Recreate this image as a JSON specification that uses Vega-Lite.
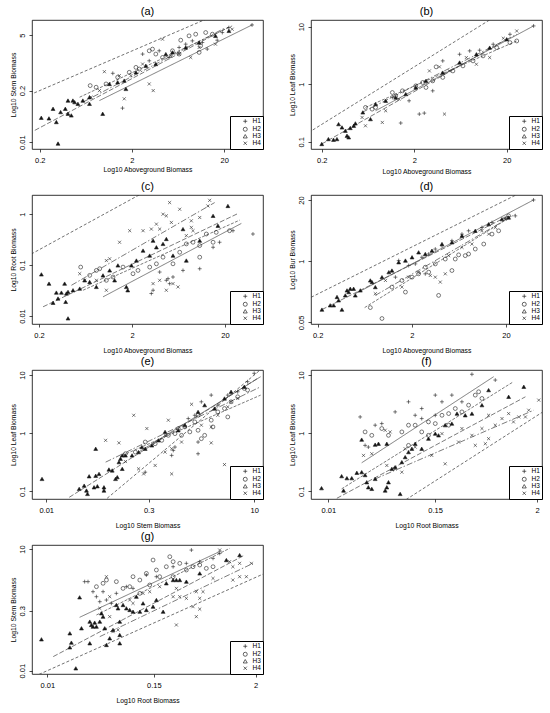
{
"$schema":"https://vega.github.io/schema/vega-lite/v6.json",
"padding":{"left":9,"top":5,"right":2,"bottom":2},
"autosize":{"type":"pad"},
"datasets":{
"ref":[{"x":0.001,"y":0.001},{"x":100,"y":100}],
"fits":[
{"p":"a","g":"H1","x":0.889,"y":0.112},{"p":"a","g":"H1","x":40.1,"y":9.08},
{"p":"a","g":"H2","x":0.541,"y":0.136},{"p":"a","g":"H2","x":24.4,"y":8.57},
{"p":"a","g":"H3","x":0.177,"y":0.0198},{"p":"a","g":"H3","x":22.5,"y":8.09},
{"p":"a","g":"H4","x":0.587,"y":0.102},{"p":"a","g":"H4","x":20.7,"y":7.78},
{"p":"b","g":"H1","x":0.764,"y":0.345},{"p":"b","g":"H1","x":39.1,"y":10.3},
{"p":"b","g":"H2","x":0.594,"y":0.394},{"p":"b","g":"H2","x":25.7,"y":5.64},
{"p":"b","g":"H3","x":0.2,"y":0.0912},{"p":"b","g":"H3","x":20,"y":6.03},
{"p":"b","g":"H4","x":0.546,"y":0.323},{"p":"b","g":"H4","x":25.7,"y":7.36},
{"p":"c","g":"H1","x":0.975,"y":0.0238},{"p":"c","g":"H1","x":30,"y":0.658},
{"p":"c","g":"H2","x":0.595,"y":0.0321},{"p":"c","g":"H2","x":28.8,"y":0.764},
{"p":"c","g":"H3","x":0.221,"y":0.0152},{"p":"c","g":"H3","x":27.6,"y":1.03},
{"p":"c","g":"H4","x":0.446,"y":0.0402},{"p":"c","g":"H4","x":15.5,"y":1.69},
{"p":"d","g":"H1","x":0.502,"y":0.203},{"p":"d","g":"H1","x":39.2,"y":20},
{"p":"d","g":"H2","x":0.631,"y":0.103},{"p":"d","g":"H2","x":21.3,"y":8.2},
{"p":"d","g":"H3","x":0.222,"y":0.0933},{"p":"d","g":"H3","x":21.3,"y":9.18},
{"p":"d","g":"H4","x":0.819,"y":0.187},{"p":"d","g":"H4","x":25.1,"y":9.96},
{"p":"e","g":"H1","x":0.215,"y":0.472},{"p":"e","g":"H1","x":12.4,"y":9.36},
{"p":"e","g":"H2","x":0.125,"y":0.414},{"p":"e","g":"H2","x":12.4,"y":4.51},
{"p":"e","g":"H3","x":0.0215,"y":0.0787},{"p":"e","g":"H3","x":11.2,"y":8.76},
{"p":"e","g":"H4","x":0.072,"y":0.317},{"p":"e","g":"H4","x":12.4,"y":6.28},
{"p":"f","g":"H1","x":0.0233,"y":0.309},{"p":"f","g":"H1","x":0.665,"y":9.36},
{"p":"f","g":"H2","x":0.014,"y":0.11},{"p":"f","g":"H2","x":1.1,"y":7.67},
{"p":"f","g":"H3","x":0.0124,"y":0.0757},{"p":"f","g":"H3","x":1.49,"y":4.22},
{"p":"f","g":"H4","x":0.0328,"y":0.163},{"p":"f","g":"H4","x":1.84,"y":2.48},
{"p":"g","g":"H1","x":0.0227,"y":0.207},{"p":"g","g":"H1","x":0.836,"y":9.09},
{"p":"g","g":"H2","x":0.0348,"y":0.236},{"p":"g","g":"H2","x":1.03,"y":10.4},
{"p":"g","g":"H3","x":0.0116,"y":0.0222},{"p":"g","g":"H3","x":1.51,"y":7.11},
{"p":"g","g":"H4","x":0.0379,"y":0.069},{"p":"g","g":"H4","x":1.87,"y":4.44}
],
"pts":[
{"p":"a","g":"H3","x":0.208,"y":0.0412},{"p":"a","g":"H3","x":0.252,"y":0.0397},{"p":"a","g":"H3","x":0.279,"y":0.0694},{"p":"a","g":"H3","x":0.303,"y":0.0321},{"p":"a","g":"H3","x":0.337,"y":0.0573},{"p":"a","g":"H3","x":0.316,"y":0.0092},{"p":"a","g":"H3","x":0.379,"y":0.0694},{"p":"a","g":"H3","x":0.405,"y":0.112},{"p":"a","g":"H3","x":0.405,"y":0.052},{"p":"a","g":"H3","x":0.44,"y":0.0472},{"p":"a","g":"H3","x":0.458,"y":0.112},{"p":"a","g":"H3","x":0.478,"y":0.102},{"p":"a","g":"H3","x":0.519,"y":0.0927},{"p":"a","g":"H3","x":0.587,"y":0.112},{"p":"a","g":"H3","x":0.693,"y":0.136},{"p":"a","g":"H3","x":0.693,"y":0.0927},{"p":"a","g":"H3","x":0.964,"y":0.052},{"p":"a","g":"H3","x":1.14,"y":0.294},{"p":"a","g":"H3","x":1.4,"y":0.324},{"p":"a","g":"H3","x":1.72,"y":0.22},{"p":"a","g":"H3","x":1.65,"y":0.357},{"p":"a","g":"H3","x":2.21,"y":0.578},{"p":"a","g":"H3","x":2.83,"y":0.849},{"p":"a","g":"H3","x":3.63,"y":0.935},{"p":"a","g":"H3","x":4.66,"y":1.67},{"p":"a","g":"H3","x":5.5,"y":1.84},{"p":"a","g":"H3","x":7.65,"y":2.45},{"p":"a","g":"H3","x":10.7,"y":3.27},{"p":"a","g":"H3","x":16.1,"y":4.81},{"p":"a","g":"H3","x":22.5,"y":6.43},
{"p":"a","g":"H1","x":1.58,"y":0.0721},{"p":"a","g":"H1","x":1.24,"y":0.546},{"p":"a","g":"H1","x":2.61,"y":1.67},{"p":"a","g":"H1","x":3.95,"y":2.02},{"p":"a","g":"H1","x":5.06,"y":1.37},{"p":"a","g":"H1","x":6.49,"y":2.45},{"p":"a","g":"H1","x":7.65,"y":2.97},{"p":"a","g":"H1","x":9.04,"y":3.6},{"p":"a","g":"H1","x":11.6,"y":3.27},{"p":"a","g":"H1","x":13.1,"y":2.23},{"p":"a","g":"H1","x":16.8,"y":3.74},{"p":"a","g":"H1","x":19.1,"y":5.84},{"p":"a","g":"H1","x":40.1,"y":9.08},{"p":"a","g":"H1","x":22.5,"y":7.78},{"p":"a","g":"H1","x":3.08,"y":1.13},
{"p":"a","g":"H2","x":0.705,"y":0.267},{"p":"a","g":"H2","x":0.818,"y":0.243},{"p":"a","g":"H2","x":1.048,"y":0.294},{"p":"a","g":"H2","x":1.4,"y":0.433},{"p":"a","g":"H2","x":1.87,"y":0.578},{"p":"a","g":"H2","x":2.21,"y":0.771},{"p":"a","g":"H2","x":2.4,"y":0.7},{"p":"a","g":"H2","x":3.08,"y":2.02},{"p":"a","g":"H2","x":3.63,"y":1.67},{"p":"a","g":"H2","x":4.29,"y":1.37},{"p":"a","g":"H2","x":5.5,"y":2.02},{"p":"a","g":"H2","x":6.76,"y":3.74},{"p":"a","g":"H2","x":8.32,"y":4.81},{"p":"a","g":"H2","x":9.82,"y":5.3},{"p":"a","g":"H2","x":11.1,"y":2.7},{"p":"a","g":"H2","x":12.6,"y":5.84},{"p":"a","g":"H2","x":14.9,"y":5.3},{"p":"a","g":"H2","x":10.7,"y":1.84},{"p":"a","g":"H2","x":6.49,"y":1.67},{"p":"a","g":"H2","x":3.34,"y":2.23},
{"p":"a","g":"H4","x":1.005,"y":0.6},{"p":"a","g":"H4","x":0.723,"y":0.136},{"p":"a","g":"H4","x":0.889,"y":0.2},{"p":"a","g":"H4","x":1.46,"y":0.477},{"p":"a","g":"H4","x":1.95,"y":0.477},{"p":"a","g":"H4","x":3.08,"y":0.294},{"p":"a","g":"H4","x":3.4,"y":0.2},{"p":"a","g":"H4","x":1.65,"y":0.124},{"p":"a","g":"H4","x":4.29,"y":3.97},{"p":"a","g":"H4","x":5.27,"y":1.51},{"p":"a","g":"H4","x":6.49,"y":1.67},{"p":"a","g":"H4","x":8.67,"y":1.37},{"p":"a","g":"H4","x":10.7,"y":2.45},{"p":"a","g":"H4","x":16.1,"y":2.97},{"p":"a","g":"H4","x":24.4,"y":7.08},{"p":"a","g":"H4","x":2.61,"y":0.935},
{"p":"b","g":"H3","x":0.2,"y":0.0912},{"p":"b","g":"H3","x":0.236,"y":0.111},{"p":"b","g":"H3","x":0.268,"y":0.108},{"p":"b","g":"H3","x":0.292,"y":0.111},{"p":"b","g":"H3","x":0.304,"y":0.202},{"p":"b","g":"H3","x":0.331,"y":0.177},{"p":"b","g":"H3","x":0.36,"y":0.155},{"p":"b","g":"H3","x":0.375,"y":0.127},{"p":"b","g":"H3","x":0.391,"y":0.119},{"p":"b","g":"H3","x":0.407,"y":0.173},{"p":"b","g":"H3","x":0.443,"y":0.189},{"p":"b","g":"H3","x":0.462,"y":0.208},{"p":"b","g":"H3","x":0.556,"y":0.323},{"p":"b","g":"H3","x":0.673,"y":0.247},{"p":"b","g":"H3","x":0.764,"y":0.45},{"p":"b","g":"H3","x":0.982,"y":0.514},{"p":"b","g":"H3","x":1.26,"y":0.587},{"p":"b","g":"H3","x":1.62,"y":0.671},{"p":"b","g":"H3","x":2.08,"y":0.875},{"p":"b","g":"H3","x":2.68,"y":1.14},{"p":"b","g":"H3","x":4.07,"y":1.59},{"p":"b","g":"H3","x":6.19,"y":2.38},{"p":"b","g":"H3","x":9.41,"y":3.31},{"p":"b","g":"H3","x":13.1,"y":4.32},{"p":"b","g":"H3","x":20,"y":6.03},
{"p":"b","g":"H1","x":2.27,"y":0.302},{"p":"b","g":"H1","x":2.57,"y":0.314},{"p":"b","g":"H1","x":1.43,"y":0.211},{"p":"b","g":"H1","x":1.16,"y":0.587},{"p":"b","g":"H1","x":4.07,"y":2.54},{"p":"b","g":"H1","x":6.19,"y":3.31},{"p":"b","g":"H1","x":7.96,"y":3.79},{"p":"b","g":"H1","x":10.2,"y":3.89},{"p":"b","g":"H1","x":14.3,"y":4.94},{"p":"b","g":"H1","x":21.7,"y":7.36},{"p":"b","g":"H1","x":39.1,"y":10.3},{"p":"b","g":"H1","x":3.17,"y":0.766},{"p":"b","g":"H1","x":1.76,"y":0.514},
{"p":"b","g":"H2","x":1.16,"y":0.716},{"p":"b","g":"H2","x":1.26,"y":0.628},{"p":"b","g":"H2","x":0.594,"y":0.394},{"p":"b","g":"H2","x":0.701,"y":0.368},{"p":"b","g":"H2","x":0.764,"y":0.394},{"p":"b","g":"H2","x":1.49,"y":0.766},{"p":"b","g":"H2","x":2.08,"y":0.935},{"p":"b","g":"H2","x":2.47,"y":1.07},{"p":"b","g":"H2","x":3.17,"y":1.14},{"p":"b","g":"H2","x":4.07,"y":1.31},{"p":"b","g":"H2","x":5.24,"y":1.7},{"p":"b","g":"H2","x":6.73,"y":2.08},{"p":"b","g":"H2","x":8.65,"y":2.54},{"p":"b","g":"H2","x":11.1,"y":3.1},{"p":"b","g":"H2","x":15.6,"y":4.32},{"p":"b","g":"H2","x":21.7,"y":5.28},{"p":"b","g":"H2","x":25.7,"y":5.64},{"p":"b","g":"H2","x":3.45,"y":2.0},{"p":"b","g":"H2","x":2.68,"y":0.875},
{"p":"b","g":"H4","x":0.546,"y":0.264},{"p":"b","g":"H4","x":0.594,"y":0.189},{"p":"b","g":"H4","x":0.903,"y":0.216},{"p":"b","g":"H4","x":0.982,"y":0.345},{"p":"b","g":"H4","x":3.75,"y":2.0},{"p":"b","g":"H4","x":4.25,"y":0.302},{"p":"b","g":"H4","x":1.37,"y":0.55},{"p":"b","g":"H4","x":2.92,"y":1.7},{"p":"b","g":"H4","x":4.82,"y":1.7},{"p":"b","g":"H4","x":7.32,"y":2.9},{"p":"b","g":"H4","x":13.1,"y":2.9},{"p":"b","g":"H4","x":18.4,"y":6.28},{"p":"b","g":"H4","x":25.7,"y":8.41},{"p":"b","g":"H4","x":9.41,"y":2.22},
{"p":"c","g":"H3","x":0.212,"y":0.0658},{"p":"c","g":"H3","x":0.256,"y":0.0433},{"p":"c","g":"H3","x":0.307,"y":0.0289},{"p":"c","g":"H3","x":0.348,"y":0.0289},{"p":"c","g":"H3","x":0.283,"y":0.0182},{"p":"c","g":"H3","x":0.32,"y":0.0221},{"p":"c","g":"H3","x":0.377,"y":0.0433},{"p":"c","g":"H3","x":0.394,"y":0.0277},{"p":"c","g":"H3","x":0.41,"y":0.0298},{"p":"c","g":"H3","x":0.387,"y":0.019},{"p":"c","g":"H3","x":0.41,"y":0.00901},{"p":"c","g":"H3","x":0.464,"y":0.0321},{"p":"c","g":"H3","x":0.548,"y":0.0346},{"p":"c","g":"H3","x":0.619,"y":0.0503},{"p":"c","g":"H3","x":0.701,"y":0.0467},{"p":"c","g":"H3","x":0.975,"y":0.0629},{"p":"c","g":"H3","x":0.827,"y":0.0373},{"p":"c","g":"H3","x":1.15,"y":0.0787},{"p":"c","g":"H3","x":1.41,"y":0.0986},{"p":"c","g":"H3","x":1.3,"y":0.0503},{"p":"c","g":"H3","x":1.74,"y":0.0373},{"p":"c","g":"H3","x":1.8,"y":0.0321},{"p":"c","g":"H3","x":1.97,"y":0.0986},{"p":"c","g":"H3","x":2.23,"y":0.123},{"p":"c","g":"H3","x":2.63,"y":0.193},{"p":"c","g":"H3","x":3.1,"y":0.154},{"p":"c","g":"H3","x":3.37,"y":0.302},{"p":"c","g":"H3","x":3.66,"y":0.224},{"p":"c","g":"H3","x":4.31,"y":0.261},{"p":"c","g":"H3","x":4.68,"y":0.326},{"p":"c","g":"H3","x":5.52,"y":0.154},{"p":"c","g":"H3","x":7.07,"y":0.51},{"p":"c","g":"H3","x":7.68,"y":0.123},{"p":"c","g":"H3","x":10.7,"y":0.302},{"p":"c","g":"H3","x":14.9,"y":0.928},{"p":"c","g":"H3","x":16.8,"y":0.593},{"p":"c","g":"H3","x":21.5,"y":1.45},
{"p":"c","g":"H4","x":0.548,"y":0.0678},{"p":"c","g":"H4","x":0.619,"y":0.0503},{"p":"c","g":"H4","x":0.827,"y":0.0503},{"p":"c","g":"H4","x":1.06,"y":0.123},{"p":"c","g":"H4","x":1.15,"y":0.133},{"p":"c","g":"H4","x":1.47,"y":0.281},{"p":"c","g":"H4","x":1.89,"y":0.474},{"p":"c","g":"H4","x":2.63,"y":0.474},{"p":"c","g":"H4","x":3.23,"y":0.51},{"p":"c","g":"H4","x":3.66,"y":0.638},{"p":"c","g":"H4","x":3.97,"y":0.51},{"p":"c","g":"H4","x":4.31,"y":1.0},{"p":"c","g":"H4","x":4.68,"y":0.928},{"p":"c","g":"H4","x":5.08,"y":1.69},{"p":"c","g":"H4","x":5.3,"y":0.688},{"p":"c","g":"H4","x":6.52,"y":1.25},{"p":"c","g":"H4","x":7.68,"y":0.379},{"p":"c","g":"H4","x":8.69,"y":0.55},{"p":"c","g":"H4","x":9.06,"y":0.474},{"p":"c","g":"H4","x":10.7,"y":0.861},{"p":"c","g":"H4","x":13.1,"y":1.45},{"p":"c","g":"H4","x":13.7,"y":1.87},{"p":"c","g":"H4","x":3.97,"y":0.0503},{"p":"c","g":"H4","x":4.68,"y":0.0321},{"p":"c","g":"H4","x":5.52,"y":0.0433},{"p":"c","g":"H4","x":6.25,"y":0.0373},{"p":"c","g":"H4","x":8.69,"y":0.741},{"p":"c","g":"H4","x":3.37,"y":0.0433},{"p":"c","g":"H4","x":1.06,"y":0.0321},
{"p":"c","g":"H2","x":0.561,"y":0.0915},{"p":"c","g":"H2","x":0.701,"y":0.0629},{"p":"c","g":"H2","x":0.827,"y":0.0787},{"p":"c","g":"H2","x":0.898,"y":0.0849},{"p":"c","g":"H2","x":1.06,"y":0.0503},{"p":"c","g":"H2","x":1.25,"y":0.0584},{"p":"c","g":"H2","x":1.6,"y":0.0915},{"p":"c","g":"H2","x":2.05,"y":0.0678},{"p":"c","g":"H2","x":2.32,"y":0.0787},{"p":"c","g":"H2","x":3.1,"y":0.0915},{"p":"c","g":"H2","x":3.66,"y":0.106},{"p":"c","g":"H2","x":4.31,"y":0.143},{"p":"c","g":"H2","x":5.52,"y":0.106},{"p":"c","g":"H2","x":6.52,"y":0.179},{"p":"c","g":"H2","x":7.68,"y":0.261},{"p":"c","g":"H2","x":9.06,"y":0.281},{"p":"c","g":"H2","x":10.7,"y":0.242},{"p":"c","g":"H2","x":12.6,"y":0.408},{"p":"c","g":"H2","x":16.1,"y":0.44},{"p":"c","g":"H2","x":22.4,"y":0.474},{"p":"c","g":"H2","x":14.9,"y":0.281},{"p":"c","g":"H2","x":10.7,"y":0.143},
{"p":"c","g":"H1","x":3.97,"y":0.0731},{"p":"c","g":"H1","x":4.68,"y":0.0503},{"p":"c","g":"H1","x":4.88,"y":0.0542},{"p":"c","g":"H1","x":5.08,"y":0.0433},{"p":"c","g":"H1","x":5.52,"y":0.0584},{"p":"c","g":"H1","x":7.07,"y":0.0787},{"p":"c","g":"H1","x":10.7,"y":0.0849},{"p":"c","g":"H1","x":14.9,"y":0.224},{"p":"c","g":"H1","x":17.5,"y":0.281},{"p":"c","g":"H1","x":24.4,"y":0.474},{"p":"c","g":"H1","x":40,"y":0.408},{"p":"c","g":"H1","x":3.37,"y":0.0321},{"p":"c","g":"H1","x":3.23,"y":0.0277},
{"p":"d","g":"H3","x":0.222,"y":0.0933},{"p":"d","g":"H3","x":0.272,"y":0.115},{"p":"d","g":"H3","x":0.296,"y":0.115},{"p":"d","g":"H3","x":0.321,"y":0.173},{"p":"d","g":"H3","x":0.334,"y":0.147},{"p":"d","g":"H3","x":0.362,"y":0.0933},{"p":"d","g":"H3","x":0.393,"y":0.187},{"p":"d","g":"H3","x":0.41,"y":0.239},{"p":"d","g":"H3","x":0.427,"y":0.22},{"p":"d","g":"H3","x":0.444,"y":0.259},{"p":"d","g":"H3","x":0.482,"y":0.259},{"p":"d","g":"H3","x":0.502,"y":0.187},{"p":"d","g":"H3","x":0.568,"y":0.239},{"p":"d","g":"H3","x":0.725,"y":0.389},{"p":"d","g":"H3","x":0.755,"y":0.359},{"p":"d","g":"H3","x":0.819,"y":0.281},{"p":"d","g":"H3","x":0.964,"y":0.457},{"p":"d","g":"H3","x":1.14,"y":0.583},{"p":"d","g":"H3","x":1.23,"y":0.632},{"p":"d","g":"H3","x":1.45,"y":0.948},{"p":"d","g":"H3","x":1.71,"y":1.03},{"p":"d","g":"H3","x":2.01,"y":1.21},{"p":"d","g":"H3","x":2.36,"y":1.54},{"p":"d","g":"H3","x":2.78,"y":1.42},{"p":"d","g":"H3","x":3.27,"y":1.67},{"p":"d","g":"H3","x":4.18,"y":2.31},{"p":"d","g":"H3","x":5.33,"y":2.51},{"p":"d","g":"H3","x":6.81,"y":3.47},{"p":"d","g":"H3","x":9.43,"y":4.42},{"p":"d","g":"H3","x":13.1,"y":6.12},{"p":"d","g":"H3","x":18.1,"y":7.81},{"p":"d","g":"H3","x":21.3,"y":8.47},
{"p":"d","g":"H1","x":1.45,"y":1.03},{"p":"d","g":"H1","x":1.85,"y":0.806},{"p":"d","g":"H1","x":2.18,"y":0.874},{"p":"d","g":"H1","x":2.56,"y":1.21},{"p":"d","g":"H1","x":3.02,"y":1.42},{"p":"d","g":"H1","x":3.55,"y":1.81},{"p":"d","g":"H1","x":4.18,"y":2.13},{"p":"d","g":"H1","x":5.33,"y":2.72},{"p":"d","g":"H1","x":6.81,"y":3.76},{"p":"d","g":"H1","x":8.01,"y":4.42},{"p":"d","g":"H1","x":11.1,"y":5.2},{"p":"d","g":"H1","x":14.2,"y":6.64},{"p":"d","g":"H1","x":19.6,"y":8.2},{"p":"d","g":"H1","x":25.1,"y":9.18},{"p":"d","g":"H1","x":39.2,"y":20},{"p":"d","g":"H1","x":1.34,"y":0.457},{"p":"d","g":"H1","x":2.78,"y":0.538},
{"p":"d","g":"H2","x":0.725,"y":0.103},{"p":"d","g":"H2","x":0.964,"y":0.0603},{"p":"d","g":"H2","x":1.23,"y":0.281},{"p":"d","g":"H2","x":1.57,"y":0.389},{"p":"d","g":"H2","x":2.01,"y":0.457},{"p":"d","g":"H2","x":2.36,"y":0.538},{"p":"d","g":"H2","x":3.02,"y":0.583},{"p":"d","g":"H2","x":3.55,"y":0.874},{"p":"d","g":"H2","x":4.53,"y":1.11},{"p":"d","g":"H2","x":5.33,"y":0.632},{"p":"d","g":"H2","x":5.78,"y":1.11},{"p":"d","g":"H2","x":7.38,"y":1.31},{"p":"d","g":"H2","x":8.01,"y":1.42},{"p":"d","g":"H2","x":9.43,"y":1.81},{"p":"d","g":"H2","x":11.6,"y":2.31},{"p":"d","g":"H2","x":14.2,"y":3.76},{"p":"d","g":"H2","x":16.7,"y":4.42},{"p":"d","g":"H2","x":21.3,"y":9.18},{"p":"d","g":"H2","x":3.85,"y":0.187},{"p":"d","g":"H2","x":6.28,"y":1.36},{"p":"d","g":"H2","x":2.78,"y":0.743},{"p":"d","g":"H2","x":1.71,"y":0.22},
{"p":"d","g":"H4","x":1.57,"y":0.281},{"p":"d","g":"H4","x":1.85,"y":0.457},{"p":"d","g":"H4","x":2.36,"y":0.583},{"p":"d","g":"H4","x":3.14,"y":0.496},{"p":"d","g":"H4","x":3.55,"y":0.457},{"p":"d","g":"H4","x":4.01,"y":0.359},{"p":"d","g":"H4","x":4.53,"y":0.538},{"p":"d","g":"H4","x":4.92,"y":1.31},{"p":"d","g":"H4","x":6.81,"y":1.97},{"p":"d","g":"H4","x":8.69,"y":2.31},{"p":"d","g":"H4","x":11.1,"y":4.42},{"p":"d","g":"H4","x":13.1,"y":3.76},{"p":"d","g":"H4","x":15.4,"y":5.2},{"p":"d","g":"H4","x":19.6,"y":7.81},{"p":"d","g":"H4","x":21.3,"y":8.47},{"p":"d","g":"H4","x":1.05,"y":0.389},{"p":"d","g":"H4","x":0.819,"y":0.203},
{"p":"e","g":"H3","x":0.0087,"y":0.163},{"p":"e","g":"H3","x":0.0299,"y":0.11},{"p":"e","g":"H3","x":0.0353,"y":0.125},{"p":"e","g":"H3","x":0.0381,"y":0.103},{"p":"e","g":"H3","x":0.0394,"y":0.09},{"p":"e","g":"H3","x":0.0416,"y":0.181},{"p":"e","g":"H3","x":0.049,"y":0.117},{"p":"e","g":"H3","x":0.0518,"y":0.185},{"p":"e","g":"H3","x":0.0518,"y":0.539},{"p":"e","g":"H3","x":0.0547,"y":0.122},{"p":"e","g":"H3","x":0.0578,"y":0.199},{"p":"e","g":"H3","x":0.0681,"y":0.117},{"p":"e","g":"H3","x":0.0681,"y":0.103},{"p":"e","g":"H3","x":0.0803,"y":0.237},{"p":"e","g":"H3","x":0.0896,"y":0.228},{"p":"e","g":"H3","x":0.1,"y":0.163},{"p":"e","g":"H3","x":0.106,"y":0.175},{"p":"e","g":"H3","x":0.112,"y":0.317},{"p":"e","g":"H3","x":0.118,"y":0.362},{"p":"e","g":"H3","x":0.125,"y":0.414},{"p":"e","g":"H3","x":0.125,"y":0.243},{"p":"e","g":"H3","x":0.139,"y":0.414},{"p":"e","g":"H3","x":0.173,"y":0.414},{"p":"e","g":"H3","x":0.215,"y":0.472},{"p":"e","g":"H3","x":0.24,"y":0.576},{"p":"e","g":"H3","x":0.268,"y":0.539},{"p":"e","g":"H3","x":0.334,"y":0.616},{"p":"e","g":"H3","x":0.416,"y":0.752},{"p":"e","g":"H3","x":0.518,"y":1.05},{"p":"e","g":"H3","x":0.803,"y":1.12},{"p":"e","g":"H3","x":1.0,"y":1.37},{"p":"e","g":"H3","x":1.55,"y":2.32},{"p":"e","g":"H3","x":1.93,"y":3.03},{"p":"e","g":"H3","x":2.68,"y":2.65},{"p":"e","g":"H3","x":3.73,"y":3.95},{"p":"e","g":"H3","x":4.64,"y":5.15},{"p":"e","g":"H3","x":7.2,"y":6.28},
{"p":"e","g":"H4","x":0.072,"y":0.752},{"p":"e","g":"H4","x":0.112,"y":0.68},{"p":"e","g":"H4","x":0.183,"y":2.03},{"p":"e","g":"H4","x":0.283,"y":1.2},{"p":"e","g":"H4","x":0.139,"y":0.325},{"p":"e","g":"H4","x":0.215,"y":0.243},{"p":"e","g":"H4","x":0.254,"y":0.199},{"p":"e","g":"H4","x":0.373,"y":0.278},{"p":"e","g":"H4","x":0.518,"y":0.472},{"p":"e","g":"H4","x":0.578,"y":1.67},{"p":"e","g":"H4","x":0.645,"y":0.539},{"p":"e","g":"H4","x":0.896,"y":0.703},{"p":"e","g":"H4","x":1.25,"y":3.14},{"p":"e","g":"H4","x":1.73,"y":1.37},{"p":"e","g":"H4","x":2.4,"y":1.28},{"p":"e","g":"H4","x":2.99,"y":2.03},{"p":"e","g":"H4","x":4.16,"y":2.83},{"p":"e","g":"H4","x":4.64,"y":3.46},{"p":"e","g":"H4","x":5.78,"y":3.95},{"p":"e","g":"H4","x":2.4,"y":0.68},{"p":"e","g":"H4","x":3.73,"y":0.288},{"p":"e","g":"H4","x":0.645,"y":0.199},{"p":"e","g":"H4","x":0.518,"y":0.917},
{"p":"e","g":"H2","x":0.139,"y":0.442},{"p":"e","g":"H2","x":0.193,"y":0.472},{"p":"e","g":"H2","x":0.268,"y":0.703},{"p":"e","g":"H2","x":0.373,"y":0.658},{"p":"e","g":"H2","x":0.464,"y":0.752},{"p":"e","g":"H2","x":0.578,"y":0.917},{"p":"e","g":"H2","x":0.72,"y":0.98},{"p":"e","g":"H2","x":0.803,"y":1.2},{"p":"e","g":"H2","x":0.896,"y":0.917},{"p":"e","g":"H2","x":1.0,"y":1.28},{"p":"e","g":"H2","x":1.18,"y":1.05},{"p":"e","g":"H2","x":1.39,"y":1.56},{"p":"e","g":"H2","x":1.55,"y":1.12},{"p":"e","g":"H2","x":1.73,"y":0.803},{"p":"e","g":"H2","x":1.93,"y":0.917},{"p":"e","g":"H2","x":2.4,"y":1.67},{"p":"e","g":"H2","x":2.99,"y":2.32},{"p":"e","g":"H2","x":3.73,"y":2.65},{"p":"e","g":"H2","x":4.16,"y":1.9},{"p":"e","g":"H2","x":4.64,"y":3.46},{"p":"e","g":"H2","x":5.78,"y":4.22},{"p":"e","g":"H2","x":7.2,"y":5.88},{"p":"e","g":"H2","x":8.03,"y":5.5},{"p":"e","g":"H2","x":2.54,"y":1.28},{"p":"e","g":"H2","x":1.55,"y":2.03},
{"p":"e","g":"H1","x":0.268,"y":0.213},{"p":"e","g":"H1","x":0.645,"y":0.414},{"p":"e","g":"H1","x":0.681,"y":0.505},{"p":"e","g":"H1","x":0.72,"y":0.576},{"p":"e","g":"H1","x":1.55,"y":0.703},{"p":"e","g":"H1","x":1.55,"y":0.442},{"p":"e","g":"H1","x":1.73,"y":3.46},{"p":"e","g":"H1","x":2.4,"y":4.51},{"p":"e","g":"H1","x":2.99,"y":3.03},{"p":"e","g":"H1","x":4.16,"y":4.51},{"p":"e","g":"H1","x":5.78,"y":5.15},{"p":"e","g":"H1","x":8.03,"y":7.67},{"p":"e","g":"H1","x":10,"y":10.7},{"p":"e","g":"H1","x":1.12,"y":1.78},{"p":"e","g":"H1","x":1.39,"y":2.03},
{"p":"f","g":"H3","x":0.0084,"y":0.113},{"p":"f","g":"H3","x":0.014,"y":0.182},{"p":"f","g":"H3","x":0.0147,"y":0.103},{"p":"f","g":"H3","x":0.016,"y":0.168},{"p":"f","g":"H3","x":0.0181,"y":0.168},{"p":"f","g":"H3","x":0.0206,"y":0.208},{"p":"f","g":"H3","x":0.0233,"y":0.213},{"p":"f","g":"H3","x":0.0254,"y":0.19},{"p":"f","g":"H3","x":0.0265,"y":0.143},{"p":"f","g":"H3","x":0.0276,"y":0.117},{"p":"f","g":"H3","x":0.0301,"y":0.11},{"p":"f","g":"H3","x":0.0328,"y":0.163},{"p":"f","g":"H3","x":0.0423,"y":0.103},{"p":"f","g":"H3","x":0.0441,"y":0.117},{"p":"f","g":"H3","x":0.046,"y":0.143},{"p":"f","g":"H3","x":0.0501,"y":0.243},{"p":"f","g":"H3","x":0.0545,"y":0.26},{"p":"f","g":"H3","x":0.0619,"y":0.09},{"p":"f","g":"H3","x":0.0646,"y":0.317},{"p":"f","g":"H3","x":0.0703,"y":0.387},{"p":"f","g":"H3","x":0.0765,"y":0.472},{"p":"f","g":"H3","x":0.0833,"y":0.539},{"p":"f","g":"H3","x":0.0906,"y":0.658},{"p":"f","g":"H3","x":0.107,"y":0.539},{"p":"f","g":"H3","x":0.127,"y":0.803},{"p":"f","g":"H3","x":0.151,"y":0.98},{"p":"f","g":"H3","x":0.164,"y":0.917},{"p":"f","g":"H3","x":0.194,"y":1.37},{"p":"f","g":"H3","x":0.23,"y":1.46},{"p":"f","g":"H3","x":0.262,"y":2.17},{"p":"f","g":"H3","x":0.323,"y":2.03},{"p":"f","g":"H3","x":0.383,"y":2.17},{"p":"f","g":"H3","x":0.494,"y":3.03},{"p":"f","g":"H3","x":0.585,"y":5.5},{"p":"f","g":"H3","x":0.973,"y":4.22},{"p":"f","g":"H3","x":1.43,"y":6.28},{"p":"f","g":"H3","x":0.0233,"y":0.773},{"p":"f","g":"H3","x":0.0328,"y":0.634},{"p":"f","g":"H3","x":0.0357,"y":0.658},{"p":"f","g":"H3","x":0.0441,"y":0.658},
{"p":"f","g":"H1","x":0.0224,"y":1.9},{"p":"f","g":"H1","x":0.0254,"y":0.616},{"p":"f","g":"H1","x":0.0276,"y":0.576},{"p":"f","g":"H1","x":0.0328,"y":1.37},{"p":"f","g":"H1","x":0.0388,"y":1.46},{"p":"f","g":"H1","x":0.0545,"y":2.32},{"p":"f","g":"H1","x":0.0765,"y":3.46},{"p":"f","g":"H1","x":0.0906,"y":2.03},{"p":"f","g":"H1","x":0.107,"y":2.65},{"p":"f","g":"H1","x":0.151,"y":2.03},{"p":"f","g":"H1","x":0.179,"y":3.46},{"p":"f","g":"H1","x":0.23,"y":4.51},{"p":"f","g":"H1","x":0.297,"y":3.46},{"p":"f","g":"H1","x":0.383,"y":10.3},{"p":"f","g":"H1","x":0.693,"y":8.19},{"p":"f","g":"H1","x":0.151,"y":4.51},{"p":"f","g":"H1","x":0.107,"y":1.78},
{"p":"f","g":"H2","x":0.0254,"y":1.05},{"p":"f","g":"H2","x":0.0301,"y":0.917},{"p":"f","g":"H2","x":0.0388,"y":1.2},{"p":"f","g":"H2","x":0.046,"y":0.917},{"p":"f","g":"H2","x":0.0646,"y":1.05},{"p":"f","g":"H2","x":0.0765,"y":1.37},{"p":"f","g":"H2","x":0.0906,"y":1.37},{"p":"f","g":"H2","x":0.107,"y":1.05},{"p":"f","g":"H2","x":0.127,"y":1.56},{"p":"f","g":"H2","x":0.151,"y":1.46},{"p":"f","g":"H2","x":0.179,"y":2.03},{"p":"f","g":"H2","x":0.212,"y":2.17},{"p":"f","g":"H2","x":0.251,"y":2.65},{"p":"f","g":"H2","x":0.297,"y":2.32},{"p":"f","g":"H2","x":0.352,"y":3.03},{"p":"f","g":"H2","x":0.417,"y":4.51},{"p":"f","g":"H2","x":0.454,"y":5.15},{"p":"f","g":"H2","x":0.494,"y":3.95},{"p":"f","g":"H2","x":0.212,"y":1.37},{"p":"f","g":"H2","x":0.127,"y":0.917},{"p":"f","g":"H2","x":0.0765,"y":0.616},
{"p":"f","g":"H4","x":0.0244,"y":0.414},{"p":"f","g":"H4","x":0.0301,"y":0.442},{"p":"f","g":"H4","x":0.0423,"y":1.12},{"p":"f","g":"H4","x":0.048,"y":1.05},{"p":"f","g":"H4","x":0.0441,"y":0.278},{"p":"f","g":"H4","x":0.0545,"y":0.243},{"p":"f","g":"H4","x":0.0646,"y":0.213},{"p":"f","g":"H4","x":0.0703,"y":0.539},{"p":"f","g":"H4","x":0.0906,"y":0.576},{"p":"f","g":"H4","x":0.138,"y":0.414},{"p":"f","g":"H4","x":0.179,"y":0.98},{"p":"f","g":"H4","x":0.194,"y":0.297},{"p":"f","g":"H4","x":0.273,"y":0.703},{"p":"f","g":"H4","x":0.383,"y":0.917},{"p":"f","g":"H4","x":0.417,"y":0.616},{"p":"f","g":"H4","x":0.538,"y":0.658},{"p":"f","g":"H4","x":0.585,"y":0.803},{"p":"f","g":"H4","x":0.693,"y":1.37},{"p":"f","g":"H4","x":0.822,"y":1.78},{"p":"f","g":"H4","x":0.973,"y":2.17},{"p":"f","g":"H4","x":1.1,"y":1.56},{"p":"f","g":"H4","x":1.26,"y":1.9},{"p":"f","g":"H4","x":1.49,"y":1.9},{"p":"f","g":"H4","x":1.62,"y":2.48},{"p":"f","g":"H4","x":2.09,"y":3.7},{"p":"f","g":"H4","x":0.585,"y":2.03},{"p":"f","g":"H4","x":0.297,"y":1.2},{"p":"f","g":"H4","x":0.494,"y":1.2},
{"p":"g","g":"H3","x":0.0086,"y":0.0593},{"p":"g","g":"H3","x":0.0177,"y":0.0834},{"p":"g","g":"H3","x":0.0184,"y":0.0491},{"p":"g","g":"H3","x":0.0177,"y":0.0376},{"p":"g","g":"H3","x":0.0238,"y":0.111},{"p":"g","g":"H3","x":0.0227,"y":0.644},{"p":"g","g":"H3","x":0.0294,"y":0.162},{"p":"g","g":"H3","x":0.0306,"y":0.134},{"p":"g","g":"H3","x":0.0319,"y":0.122},{"p":"g","g":"H3","x":0.0333,"y":0.153},{"p":"g","g":"H3","x":0.0348,"y":0.122},{"p":"g","g":"H3","x":0.0379,"y":0.162},{"p":"g","g":"H3","x":0.0395,"y":0.26},{"p":"g","g":"H3","x":0.0412,"y":0.215},{"p":"g","g":"H3","x":0.0449,"y":0.043},{"p":"g","g":"H3","x":0.043,"y":0.111},{"p":"g","g":"H3","x":0.0531,"y":0.101},{"p":"g","g":"H3","x":0.0578,"y":0.417},{"p":"g","g":"H3","x":0.0603,"y":0.345},{"p":"g","g":"H3","x":0.063,"y":0.162},{"p":"g","g":"H3","x":0.063,"y":0.0473},{"p":"g","g":"H3","x":0.063,"y":0.0759},{"p":"g","g":"H3","x":0.0685,"y":0.417},{"p":"g","g":"H3","x":0.0746,"y":0.345},{"p":"g","g":"H3","x":0.0812,"y":0.314},{"p":"g","g":"H3","x":0.0883,"y":0.285},{"p":"g","g":"H3","x":0.0961,"y":0.668},{"p":"g","g":"H3","x":0.105,"y":0.285},{"p":"g","g":"H3","x":0.114,"y":0.458},{"p":"g","g":"H3","x":0.124,"y":0.314},{"p":"g","g":"H3","x":0.147,"y":0.379},{"p":"g","g":"H3","x":0.16,"y":0.553},{"p":"g","g":"H3","x":0.19,"y":0.285},{"p":"g","g":"H3","x":0.206,"y":1.43},{"p":"g","g":"H3","x":0.245,"y":1.72},{"p":"g","g":"H3","x":0.266,"y":1.72},{"p":"g","g":"H3","x":0.29,"y":1.72},{"p":"g","g":"H3","x":0.343,"y":1.57},{"p":"g","g":"H3","x":0.482,"y":2.51},{"p":"g","g":"H3","x":0.949,"y":5.36},{"p":"g","g":"H3","x":1.33,"y":7.11},{"p":"g","g":"H3","x":0.0206,"y":0.0114},{"p":"g","g":"H3","x":0.0294,"y":0.0473},{"p":"g","g":"H3","x":0.0488,"y":0.0628},
{"p":"g","g":"H1","x":0.0258,"y":1.57},{"p":"g","g":"H1","x":0.0281,"y":1.57},{"p":"g","g":"H1","x":0.0319,"y":0.887},{"p":"g","g":"H1","x":0.0348,"y":0.668},{"p":"g","g":"H1","x":0.0379,"y":0.503},{"p":"g","g":"H1","x":0.0412,"y":0.887},{"p":"g","g":"H1","x":0.0449,"y":0.553},{"p":"g","g":"H1","x":0.0509,"y":0.458},{"p":"g","g":"H1","x":0.0578,"y":0.807},{"p":"g","g":"H1","x":0.0746,"y":1.18},{"p":"g","g":"H1","x":0.0883,"y":1.07},{"p":"g","g":"H1","x":0.124,"y":2.29},{"p":"g","g":"H1","x":0.16,"y":2.08},{"p":"g","g":"H1","x":0.245,"y":3.67},{"p":"g","g":"H1","x":0.343,"y":4.44},{"p":"g","g":"H1","x":0.39,"y":9.45},{"p":"g","g":"H1","x":0.482,"y":4.88},{"p":"g","g":"H1","x":0.676,"y":5.89},{"p":"g","g":"H1","x":0.801,"y":7.82},
{"p":"g","g":"H2","x":0.0348,"y":1.18},{"p":"g","g":"H2","x":0.0412,"y":1.43},{"p":"g","g":"H2","x":0.0449,"y":1.72},{"p":"g","g":"H2","x":0.0578,"y":1.57},{"p":"g","g":"H2","x":0.0685,"y":1.07},{"p":"g","g":"H2","x":0.0812,"y":1.18},{"p":"g","g":"H2","x":0.0883,"y":2.08},{"p":"g","g":"H2","x":0.105,"y":1.72},{"p":"g","g":"H2","x":0.124,"y":2.51},{"p":"g","g":"H2","x":0.147,"y":5.36},{"p":"g","g":"H2","x":0.16,"y":3.04},{"p":"g","g":"H2","x":0.174,"y":2.08},{"p":"g","g":"H2","x":0.206,"y":3.67},{"p":"g","g":"H2","x":0.225,"y":6.47},{"p":"g","g":"H2","x":0.245,"y":4.88},{"p":"g","g":"H2","x":0.29,"y":4.44},{"p":"g","g":"H2","x":0.343,"y":3.04},{"p":"g","g":"H2","x":0.406,"y":3.67},{"p":"g","g":"H2","x":0.482,"y":4.04},{"p":"g","g":"H2","x":0.57,"y":3.34},{"p":"g","g":"H2","x":0.676,"y":3.67},{"p":"g","g":"H2","x":0.135,"y":1.3},{"p":"g","g":"H2","x":0.245,"y":2.08},{"p":"g","g":"H2","x":0.105,"y":0.807},
{"p":"g","g":"H4","x":0.0449,"y":2.08},{"p":"g","g":"H4","x":0.0379,"y":0.345},{"p":"g","g":"H4","x":0.0488,"y":0.215},{"p":"g","g":"H4","x":0.0531,"y":0.0917},{"p":"g","g":"H4","x":0.0603,"y":0.101},{"p":"g","g":"H4","x":0.0488,"y":0.668},{"p":"g","g":"H4","x":0.0812,"y":0.553},{"p":"g","g":"H4","x":0.0883,"y":0.458},{"p":"g","g":"H4","x":0.114,"y":0.807},{"p":"g","g":"H4","x":0.135,"y":0.887},{"p":"g","g":"H4","x":0.174,"y":1.18},{"p":"g","g":"H4","x":0.245,"y":0.668},{"p":"g","g":"H4","x":0.29,"y":0.668},{"p":"g","g":"H4","x":0.343,"y":0.608},{"p":"g","g":"H4","x":0.406,"y":0.379},{"p":"g","g":"H4","x":0.442,"y":0.887},{"p":"g","g":"H4","x":0.482,"y":0.608},{"p":"g","g":"H4","x":0.524,"y":0.887},{"p":"g","g":"H4","x":0.676,"y":1.89},{"p":"g","g":"H4","x":0.801,"y":9.45},{"p":"g","g":"H4","x":1.03,"y":4.88},{"p":"g","g":"H4","x":1.12,"y":3.67},{"p":"g","g":"H4","x":1.33,"y":4.44},{"p":"g","g":"H4","x":1.12,"y":1.72},{"p":"g","g":"H4","x":1.33,"y":2.08},{"p":"g","g":"H4","x":1.58,"y":2.08},{"p":"g","g":"H4","x":1.79,"y":4.44},{"p":"g","g":"H4","x":0.266,"y":0.134},{"p":"g","g":"H4","x":0.442,"y":0.215},{"p":"g","g":"H4","x":0.482,"y":0.33},{"p":"g","g":"H4","x":0.266,"y":1.07}
]
},
"columns":2,
"spacing":{"row":46,"column":48},
"bounds":"flush",
"concat":[
{"title":"(a)","width":231,"height":129,"layer":[
 {"data":{"name":"ref"},"mark":{"type":"line","clip":true,"strokeDash":[3,2],"color":"#333","strokeWidth":0.7},
  "encoding":{"x":{"field":"x","type":"quantitative","scale":{"type":"log","domain":[0.165,52.7],"nice":false},"axis":{"title":"Log10 Aboveground Biomass","values":[0.2,2,20],"titlePadding":3}},
   "y":{"field":"y","type":"quantitative","scale":{"type":"log","domain":[0.0067,12.1],"nice":false},"axis":{"title":"Log10 Stem Biomass","values":[0.01,0.2,5]}}}},
 {"data":{"name":"fits"},"transform":[{"filter":"datum.p=='a'"}],"mark":{"type":"line","clip":true,"color":"#444","strokeWidth":0.7},
  "encoding":{"x":{"field":"x","type":"quantitative"},"y":{"field":"y","type":"quantitative"},"strokeDash":{"field":"g","type":"nominal","scale":{"domain":["H1","H2","H3","H4","none"],"range":[[1,0],[3,1.5],[5,2],[6,2,1.5,2],[1,0]]},"legend":null}}},
 {"data":{"name":"pts"},"transform":[{"filter":"datum.p=='a'"}],"mark":{"type":"point","filled":false,"size":15,"strokeWidth":0.6,"opacity":1,"color":"#222"},
  "encoding":{"x":{"field":"x","type":"quantitative"},"y":{"field":"y","type":"quantitative"},
   "shape":{"field":"g","type":"nominal","scale":{"domain":["H1","H2","H3","H4"],"range":["M-1,0L1,0M0,-1L0,1","circle","triangle-up","M-0.8,-0.8L0.8,0.8M-0.8,0.8L0.8,-0.8"]},
    "legend":{"title":null,"orient":"bottom-right","offset":0,"encode":{"symbols":{"fill":{"condition":{"test":"datum.value==='H3'","value":"black"},"value":"transparent"}}}}},
   "fill":{"condition":{"test":"datum.g==='H3'","value":"#111"},"value":"transparent"}}}
]},
{"title":"(b)","width":231,"height":129,"layer":[
 {"data":{"name":"ref"},"mark":{"type":"line","clip":true,"strokeDash":[3,2],"color":"#333","strokeWidth":0.7},
  "encoding":{"x":{"field":"x","type":"quantitative","scale":{"type":"log","domain":[0.153,48.2],"nice":false},"axis":{"title":"Log10 Aboveground Biomass","values":[0.2,2,20],"titlePadding":5}},
   "y":{"field":"y","type":"quantitative","scale":{"type":"log","domain":[0.0746,13.05],"nice":false},"axis":{"title":"Log10 Leaf Biomass","values":[0.1,1,10]}}}},
 {"data":{"name":"fits"},"transform":[{"filter":"datum.p=='b'"}],"mark":{"type":"line","clip":true,"color":"#444","strokeWidth":0.7},
  "encoding":{"x":{"field":"x","type":"quantitative"},"y":{"field":"y","type":"quantitative"},"strokeDash":{"field":"g","type":"nominal","scale":{"domain":["H1","H2","H3","H4","none"],"range":[[1,0],[3,1.5],[5,2],[6,2,1.5,2],[1,0]]},"legend":null}}},
 {"data":{"name":"pts"},"transform":[{"filter":"datum.p=='b'"}],"mark":{"type":"point","filled":false,"size":15,"strokeWidth":0.6,"opacity":1,"color":"#222"},
  "encoding":{"x":{"field":"x","type":"quantitative"},"y":{"field":"y","type":"quantitative"},
   "shape":{"field":"g","type":"nominal","scale":{"domain":["H1","H2","H3","H4"],"range":["M-1,0L1,0M0,-1L0,1","circle","triangle-up","M-0.8,-0.8L0.8,0.8M-0.8,0.8L0.8,-0.8"]},
    "legend":{"title":null,"orient":"bottom-right","offset":0,"encode":{"symbols":{"fill":{"condition":{"test":"datum.value==='H3'","value":"black"},"value":"transparent"}}}}},
   "fill":{"condition":{"test":"datum.g==='H3'","value":"#111"},"value":"transparent"}}}
]},
{"title":"(c)","width":231,"height":129,"layer":[
 {"data":{"name":"ref"},"mark":{"type":"line","clip":true,"strokeDash":[3,2],"color":"#333","strokeWidth":0.7},
  "encoding":{"x":{"field":"x","type":"quantitative","scale":{"type":"log","domain":[0.168,51.3],"nice":false},"axis":{"title":"Log10 Aboveground Biomass","values":[0.2,2,20],"titlePadding":9}},
   "y":{"field":"y","type":"quantitative","scale":{"type":"log","domain":[0.00698,2.38],"nice":false},"axis":{"title":"Log10 Root Biomass","values":[0.01,0.1,1]}}}},
 {"data":{"name":"fits"},"transform":[{"filter":"datum.p=='c'"}],"mark":{"type":"line","clip":true,"color":"#444","strokeWidth":0.7},
  "encoding":{"x":{"field":"x","type":"quantitative"},"y":{"field":"y","type":"quantitative"},"strokeDash":{"field":"g","type":"nominal","scale":{"domain":["H1","H2","H3","H4","none"],"range":[[1,0],[3,1.5],[5,2],[6,2,1.5,2],[1,0]]},"legend":null}}},
 {"data":{"name":"pts"},"transform":[{"filter":"datum.p=='c'"}],"mark":{"type":"point","filled":false,"size":15,"strokeWidth":0.6,"opacity":1,"color":"#222"},
  "encoding":{"x":{"field":"x","type":"quantitative"},"y":{"field":"y","type":"quantitative"},
   "shape":{"field":"g","type":"nominal","scale":{"domain":["H1","H2","H3","H4"],"range":["M-1,0L1,0M0,-1L0,1","circle","triangle-up","M-0.8,-0.8L0.8,0.8M-0.8,0.8L0.8,-0.8"]},
    "legend":{"title":null,"orient":"bottom-right","offset":0,"encode":{"symbols":{"fill":{"condition":{"test":"datum.value==='H3'","value":"black"},"value":"transparent"}}}}},
   "fill":{"condition":{"test":"datum.g==='H3'","value":"#111"},"value":"transparent"}}}
]},
{"title":"(d)","width":231,"height":129,"layer":[
 {"data":{"name":"ref"},"mark":{"type":"line","clip":true,"strokeDash":[3,2],"color":"#333","strokeWidth":0.7},
  "encoding":{"x":{"field":"x","type":"quantitative","scale":{"type":"log","domain":[0.17,48.2],"nice":false},"axis":{"title":"Log10 Aboveground Biomass","values":[0.2,2,20],"titlePadding":9}},
   "y":{"field":"y","type":"quantitative","scale":{"type":"log","domain":[0.0461,25.5],"nice":false},"axis":{"title":"Log10 Bur Biomass","values":[0.05,1,20]}}}},
 {"data":{"name":"fits"},"transform":[{"filter":"datum.p=='d'"}],"mark":{"type":"line","clip":true,"color":"#444","strokeWidth":0.7},
  "encoding":{"x":{"field":"x","type":"quantitative"},"y":{"field":"y","type":"quantitative"},"strokeDash":{"field":"g","type":"nominal","scale":{"domain":["H1","H2","H3","H4","none"],"range":[[1,0],[3,1.5],[5,2],[6,2,1.5,2],[1,0]]},"legend":null}}},
 {"data":{"name":"pts"},"transform":[{"filter":"datum.p=='d'"}],"mark":{"type":"point","filled":false,"size":15,"strokeWidth":0.6,"opacity":1,"color":"#222"},
  "encoding":{"x":{"field":"x","type":"quantitative"},"y":{"field":"y","type":"quantitative"},
   "shape":{"field":"g","type":"nominal","scale":{"domain":["H1","H2","H3","H4"],"range":["M-1,0L1,0M0,-1L0,1","circle","triangle-up","M-0.8,-0.8L0.8,0.8M-0.8,0.8L0.8,-0.8"]},
    "legend":{"title":null,"orient":"bottom-right","offset":0,"encode":{"symbols":{"fill":{"condition":{"test":"datum.value==='H3'","value":"black"},"value":"transparent"}}}}},
   "fill":{"condition":{"test":"datum.g==='H3'","value":"#111"},"value":"transparent"}}}
]},
{"title":"(e)","width":231,"height":129,"layer":[
 {"data":{"name":"ref"},"mark":{"type":"line","clip":true,"strokeDash":[3,2],"color":"#333","strokeWidth":0.7},
  "encoding":{"x":{"field":"x","type":"quantitative","scale":{"type":"log","domain":[0.00624,13.4],"nice":false},"axis":{"title":"Log10 Stem Biomass","values":[0.01,0.3,10],"titlePadding":9}},
   "y":{"field":"y","type":"quantitative","scale":{"type":"log","domain":[0.0736,12.2],"nice":false},"axis":{"title":"Log10 Leaf Biomass","values":[0.1,1,10]}}}},
 {"data":{"name":"fits"},"transform":[{"filter":"datum.p=='e'"}],"mark":{"type":"line","clip":true,"color":"#444","strokeWidth":0.7},
  "encoding":{"x":{"field":"x","type":"quantitative"},"y":{"field":"y","type":"quantitative"},"strokeDash":{"field":"g","type":"nominal","scale":{"domain":["H1","H2","H3","H4","none"],"range":[[1,0],[3,1.5],[5,2],[6,2,1.5,2],[1,0]]},"legend":null}}},
 {"data":{"name":"pts"},"transform":[{"filter":"datum.p=='e'"}],"mark":{"type":"point","filled":false,"size":15,"strokeWidth":0.6,"opacity":1,"color":"#222"},
  "encoding":{"x":{"field":"x","type":"quantitative"},"y":{"field":"y","type":"quantitative"},
   "shape":{"field":"g","type":"nominal","scale":{"domain":["H1","H2","H3","H4"],"range":["M-1,0L1,0M0,-1L0,1","circle","triangle-up","M-0.8,-0.8L0.8,0.8M-0.8,0.8L0.8,-0.8"]},
    "legend":{"title":null,"orient":"bottom-right","offset":0,"encode":{"symbols":{"fill":{"condition":{"test":"datum.value==='H3'","value":"black"},"value":"transparent"}}}}},
   "fill":{"condition":{"test":"datum.g==='H3'","value":"#111"},"value":"transparent"}}}
]},
{"title":"(f)","width":231,"height":129,"layer":[
 {"data":{"name":"ref"},"mark":{"type":"line","clip":true,"strokeDash":[3,2],"color":"#333","strokeWidth":0.7},
  "encoding":{"x":{"field":"x","type":"quantitative","scale":{"type":"log","domain":[0.00643,2.27],"nice":false},"axis":{"title":"Log10 Root Biomass","values":[0.01,0.15,2],"titlePadding":9}},
   "y":{"field":"y","type":"quantitative","scale":{"type":"log","domain":[0.0736,12.2],"nice":false},"axis":{"title":"Log10 Leaf Biomass","values":[0.1,1,10]}}}},
 {"data":{"name":"fits"},"transform":[{"filter":"datum.p=='f'"}],"mark":{"type":"line","clip":true,"color":"#444","strokeWidth":0.7},
  "encoding":{"x":{"field":"x","type":"quantitative"},"y":{"field":"y","type":"quantitative"},"strokeDash":{"field":"g","type":"nominal","scale":{"domain":["H1","H2","H3","H4","none"],"range":[[1,0],[3,1.5],[5,2],[6,2,1.5,2],[1,0]]},"legend":null}}},
 {"data":{"name":"pts"},"transform":[{"filter":"datum.p=='f'"}],"mark":{"type":"point","filled":false,"size":15,"strokeWidth":0.6,"opacity":1,"color":"#222"},
  "encoding":{"x":{"field":"x","type":"quantitative"},"y":{"field":"y","type":"quantitative"},
   "shape":{"field":"g","type":"nominal","scale":{"domain":["H1","H2","H3","H4"],"range":["M-1,0L1,0M0,-1L0,1","circle","triangle-up","M-0.8,-0.8L0.8,0.8M-0.8,0.8L0.8,-0.8"]},
    "legend":{"title":null,"orient":"bottom-right","offset":0,"encode":{"symbols":{"fill":{"condition":{"test":"datum.value==='H3'","value":"black"},"value":"transparent"}}}}},
   "fill":{"condition":{"test":"datum.g==='H3'","value":"#111"},"value":"transparent"}}}
]},
{"title":"(g)","width":231,"height":129,"layer":[
 {"data":{"name":"ref"},"mark":{"type":"line","clip":true,"strokeDash":[3,2],"color":"#333","strokeWidth":0.7},
  "encoding":{"x":{"field":"x","type":"quantitative","scale":{"type":"log","domain":[0.00676,2.41],"nice":false},"axis":{"title":"Log10 Root Biomass","values":[0.01,0.15,2],"titlePadding":9}},
   "y":{"field":"y","type":"quantitative","scale":{"type":"log","domain":[0.00826,12.6],"nice":false},"axis":{"title":"Log10 Stem Biomass","values":[0.01,0.3,10]}}}},
 {"data":{"name":"fits"},"transform":[{"filter":"datum.p=='g'"}],"mark":{"type":"line","clip":true,"color":"#444","strokeWidth":0.7},
  "encoding":{"x":{"field":"x","type":"quantitative"},"y":{"field":"y","type":"quantitative"},"strokeDash":{"field":"g","type":"nominal","scale":{"domain":["H1","H2","H3","H4","none"],"range":[[1,0],[3,1.5],[5,2],[6,2,1.5,2],[1,0]]},"legend":null}}},
 {"data":{"name":"pts"},"transform":[{"filter":"datum.p=='g'"}],"mark":{"type":"point","filled":false,"size":15,"strokeWidth":0.6,"opacity":1,"color":"#222"},
  "encoding":{"x":{"field":"x","type":"quantitative"},"y":{"field":"y","type":"quantitative"},
   "shape":{"field":"g","type":"nominal","scale":{"domain":["H1","H2","H3","H4"],"range":["M-1,0L1,0M0,-1L0,1","circle","triangle-up","M-0.8,-0.8L0.8,0.8M-0.8,0.8L0.8,-0.8"]},
    "legend":{"title":null,"orient":"bottom-right","offset":0,"encode":{"symbols":{"fill":{"condition":{"test":"datum.value==='H3'","value":"black"},"value":"transparent"}}}}},
   "fill":{"condition":{"test":"datum.g==='H3'","value":"#111"},"value":"transparent"}}}
]}
],
"resolve":{"scale":{"shape":"independent","strokeDash":"independent"},"legend":{"shape":"independent"}},
"config":{
 "font":"Liberation Sans",
 "background":"white",
 "view":{"stroke":"black","strokeWidth":0.8},
 "title":{"fontSize":11,"fontWeight":"normal","offset":3,"color":"black","anchor":"middle"},
 "axis":{"grid":false,"domain":false,"tickSize":3,"tickColor":"black","tickWidth":0.7,"labelFontSize":7.5,"labelColor":"black","titleFontSize":6.8,"titleFontWeight":"normal","titleColor":"black","format":"~g","labelFlush":false,"labelOverlap":false},
 "axisX":{"labelPadding":4},
 "axisY":{"labelAngle":-90,"labelAlign":"center","labelBaseline":"bottom","labelPadding":3,"titlePadding":2},
 "legend":{"padding":2,"strokeColor":"black","fillColor":"white","labelFontSize":6.5,"labelColor":"black","symbolSize":16,"symbolStrokeWidth":0.7,"symbolStrokeColor":"#222","rowPadding":0,"labelOffset":4,"symbolOffset":10,"cornerRadius":0}
}
}
